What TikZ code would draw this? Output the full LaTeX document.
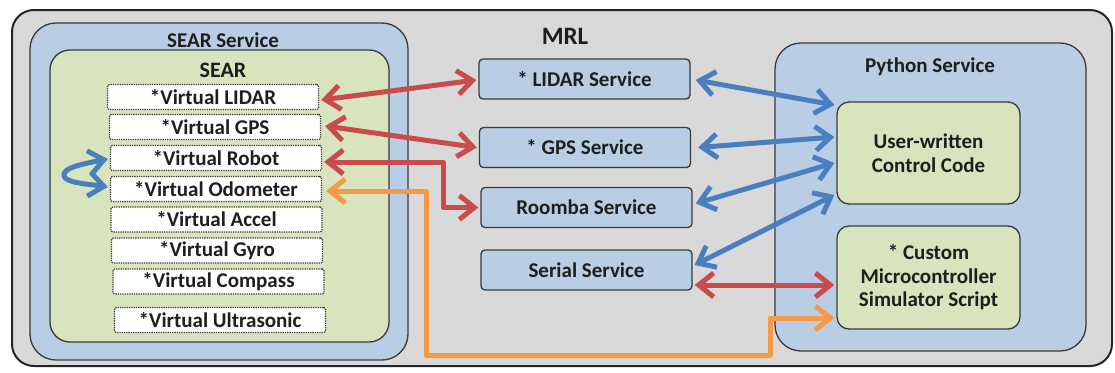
\documentclass[tikz,border=0pt]{standalone}
\usepackage{fontspec}
\setmainfont{Carlito}
\usetikzlibrary{arrows.meta,calc}
\definecolor{bgGray}{HTML}{D9D9D9}
\definecolor{svcBlue}{HTML}{B9CDE5}
\definecolor{codeGreen}{HTML}{D7E4BD}
\definecolor{lineDark}{HTML}{3A3A3A}
\definecolor{txtDark}{HTML}{1E1E1E}
\definecolor{arrRed}{HTML}{C94B4B}
\definecolor{arrBlue}{HTML}{4A7EBF}
\definecolor{arrOrange}{HTML}{F59A48}
\tikzset{
  lbl/.style={font=\bfseries\fontsize{21}{23.5}\selectfont, text=txtDark, inner sep=0pt},
  container/.style={draw=lineDark, line width=1.3pt, rounded corners=26pt, inner sep=0pt},
  virt/.style={draw=lineDark, fill=white, densely dotted, line width=1.3pt, minimum width=211pt, minimum height=25pt, inner sep=0pt, rounded corners=2pt, lbl},
  svc/.style={draw=lineDark, fill=svcBlue, line width=1.3pt, minimum width=211pt, minimum height=40pt, inner sep=0pt, rounded corners=4pt, lbl},
  code/.style={draw=lineDark, fill=codeGreen, line width=1.3pt, minimum width=183pt, minimum height=102pt, inner sep=0pt, rounded corners=12pt, lbl, align=center},
  link/.style={line width=5pt, line cap=round, line join=round, >={Straight Barb[length=15pt,width=24pt]}, <->},
  redlink/.style={link, draw=arrRed},
  bluelink/.style={link, draw=arrBlue},
  orangelink/.style={link, draw=arrOrange},
}
\begin{document}
\begin{tikzpicture}[x=1pt, y=-1pt]
\useasboundingbox (0,0) rectangle (1115,372);

% MRL frame
\node[draw=black!85, line width=2pt, fill=bgGray, rounded corners=22pt, minimum width=1100pt, minimum height=356pt, inner sep=0pt] (mrl) at (562,188) {};
\node[lbl, font=\bfseries\fontsize{25}{27}\selectfont] (mrlL) at (565,36) {MRL};

% SEAR service and SEAR
\node[container, fill=svcBlue, minimum width=378pt, minimum height=337pt] (searsvc) at (219,191.5) {};
\node[lbl] (searsvcL) at (223,40) {SEAR Service};
\node[container, fill=codeGreen, rounded corners=20pt, minimum width=339pt, minimum height=292pt] (sear) at (219.5,196) {};
\node[lbl, font=\bfseries\fontsize{22}{24}\selectfont] (searL) at (223,70) {SEAR};

\node[virt] (vl) at (213,97)   {*Virtual LIDAR};
\node[virt] (vg) at (215,127)  {*Virtual GPS};
\node[virt] (vr) at (216,158)  {*Virtual Robot};
\node[virt] (vo) at (216,189)  {*Virtual Odometer};
\node[virt] (va) at (216.5,219.5) {*Virtual Accel};
\node[virt] (vy) at (217,250.5)  {*Virtual Gyro};
\node[virt] (vc) at (218.5,281.5) {*Virtual Compass};
\node[virt] (vu) at (220,320)  {*Virtual Ultrasonic};

% MRL services
\node[svc] (lidar)  at (584.5,79)   {* LIDAR Service};
\node[svc] (gps)    at (585,147.5)  {* GPS Service};
\node[svc] (roomba) at (586.5,207.5) {Roomba Service};
\node[svc] (serial) at (586.5,270)  {Serial Service};

% Python service
\node[container, fill=svcBlue, minimum width=311pt, minimum height=308pt] (python) at (930.5,197) {};
\node[lbl] (pythonL) at (930,67) {Python Service};
\node[code] (ctrl)   at (928.5,153)   {User-written\\Control Code};
\node[code, minimum height=103pt] (custom) at (928.5,277.5) {* Custom\\Microcontroller\\Simulator Script};

% routing points
\coordinate (rbend) at (443,0);
\coordinate (o1) at (426,355);
\coordinate (o2) at (770,318);
\coordinate (s1) at ([yshift=-15pt]serial.east);

% red links SEAR <-> MRL
\draw[redlink] ([xshift=2pt,yshift=-3pt]vl.east) -- ([xshift=-2pt,yshift=-1pt]lidar.west);
\draw[redlink] ([xshift=4pt,yshift=1pt]vg.east) -- ([xshift=-2pt]gps.west);
\draw[redlink] ([xshift=2pt,yshift=-4pt]vr.east) -| (rbend |- roomba.west) -- ([xshift=-2pt]roomba.west);
\draw[redlink] ([xshift=2pt]s1) -- ([xshift=-2pt]s1 -| custom.west);

% orange link odometer <-> simulator script
\draw[orangelink] ([xshift=4pt,yshift=-2pt]vo.east) -| (o1) -| (o2) -- ([xshift=-2pt]o2 -| custom.west);

% blue links services <-> control code
\draw[bluelink] ([xshift=5pt,yshift=-1pt]lidar.east) -- ([xshift=-2pt,yshift=48pt]ctrl.west);
\draw[bluelink] ([xshift=7pt]gps.east) -- ([xshift=-2pt,yshift=16pt]ctrl.west);
\draw[bluelink] ([xshift=3pt,yshift=4pt]roomba.east) -- ([xshift=-2pt,yshift=-10pt]ctrl.west);
\draw[bluelink] ([xshift=2pt,yshift=5pt]serial.east) -- ([xshift=-2pt,yshift=-42pt]ctrl.west);

% blue loop robot <-> odometer
\draw[bluelink] ([xshift=-2pt,yshift=-1pt]vr.west) .. controls (82,164) and (62,168) .. (64,176) .. controls (66,183) and (88,184) .. ([xshift=-2pt,yshift=2pt]vo.west);
\end{tikzpicture}
\end{document}
